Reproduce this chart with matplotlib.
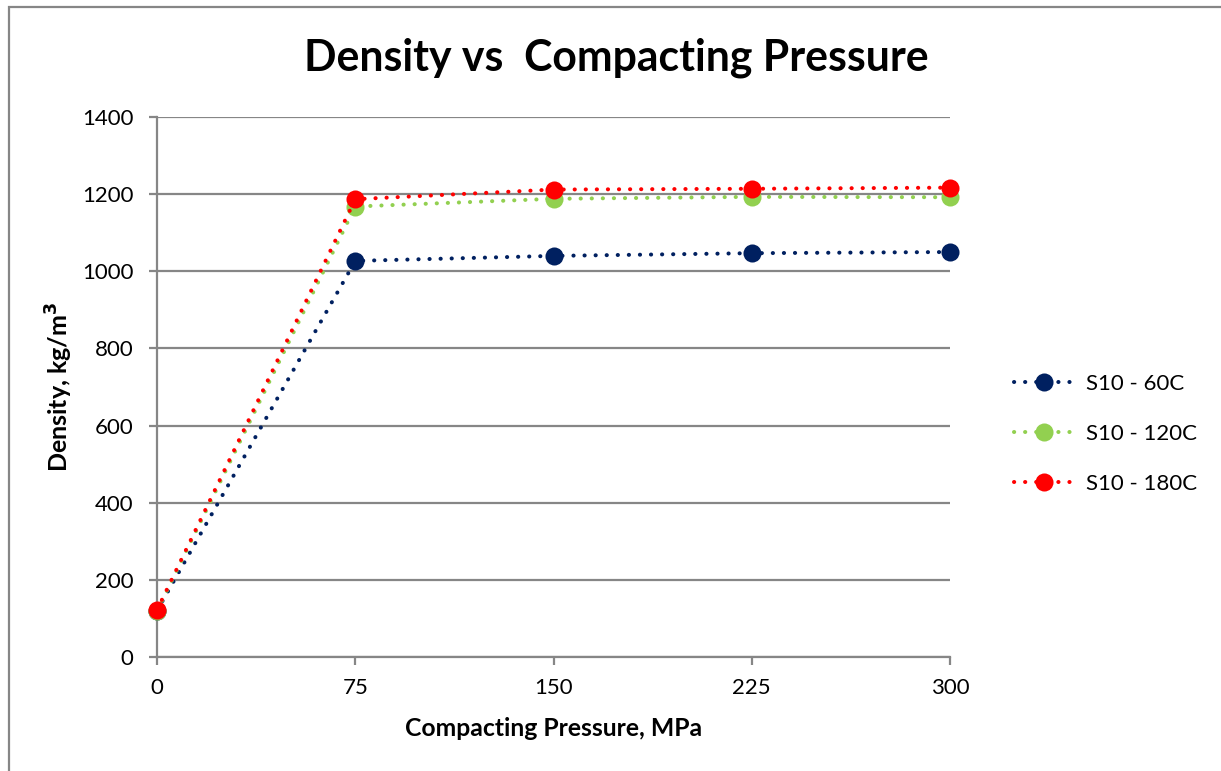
import matplotlib.pyplot as plt
from matplotlib.patches import Rectangle

plt.rcParams['font.family'] = ['Lato', 'DejaVu Sans']

# compacting pressure (MPa) and measured density (kg/m3)
pressure = [0, 75, 150, 225, 300]
dens_60 = [120, 1027, 1040, 1047, 1050]
dens_120 = [120, 1168, 1188, 1193, 1192]
dens_180 = [122, 1187, 1212, 1214, 1217]

series = [
    ('S10 - 60C', dens_60, '#002060'),
    ('S10 - 120C', dens_120, '#92D050'),
    ('S10 - 180C', dens_180, '#FF0000'),
]

grid_col = '#868686'

fig = plt.figure(figsize=(12.21, 7.71), dpi=100)
ax = fig.add_axes([0.1286, 0.1479, 0.6495, 0.7003])

for name, vals, col in series:
    ax.plot(pressure, vals, color=col, lw=2.9, linestyle=(0, (0.05, 2.7)),
            dash_capstyle='round', marker='o', markersize=13,
            markeredgewidth=0, label=name, zorder=3, clip_on=False)

ax.set_xlim(0, 300)
ax.set_ylim(0, 1400)
ax.set_xticks(pressure)
ax.set_yticks(range(0, 1401, 200))
ax.yaxis.grid(True, color=grid_col, lw=1.6)
ax.set_axisbelow(True)
for s in ['top', 'right']:
    ax.spines[s].set_visible(False)
for s in ['left', 'bottom']:
    ax.spines[s].set_color(grid_col)
    ax.spines[s].set_linewidth(1.6)
ax.tick_params(axis='both', colors=grid_col, width=1.6, length=6,
               labelcolor='black', labelsize=16)
ax.tick_params(axis='x', pad=9)
ax.tick_params(axis='y', pad=11)

ax.set_xlabel('Compacting Pressure, MPa', fontsize=17.8, fontweight='bold', labelpad=14)
ax.set_ylabel('Density, kg/m$^\\mathbf{3}$', fontsize=18, fontweight='bold', labelpad=5)

fig.text(0.5045, 0.925, 'Density vs  Compacting Pressure', ha='center', va='center',
         fontsize=30.8, fontweight='bold')

leg = ax.legend(loc='center left', bbox_to_anchor=(1.055, 0.413), frameon=False,
                fontsize=16, handlelength=2.7, labelspacing=1.35, handletextpad=0.55)

# outer chart border
fig.patches.append(Rectangle((9 / 1221, -0.05), 1.2, 1 - 7 / 771 + 0.05,
                             transform=fig.transFigure, fill=False,
                             edgecolor=grid_col, lw=1.6))

fig.savefig('out.png', dpi=100)
